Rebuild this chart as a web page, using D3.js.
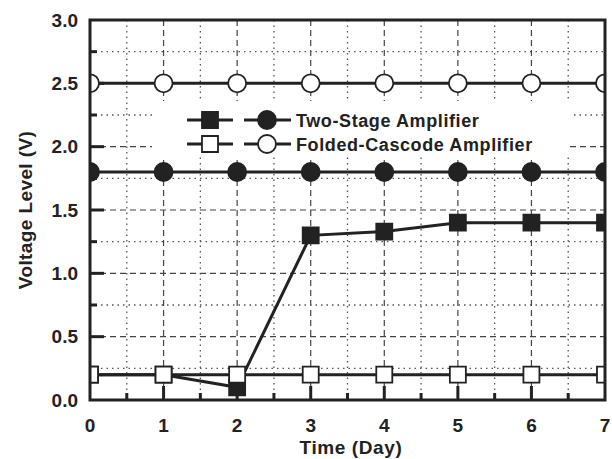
<!DOCTYPE html>
<html>
<head>
<meta charset="utf-8">
<script src="https://cdn.jsdelivr.net/npm/d3@7"></script>
<style>
body { margin: 0; background: #fff; }
text { font-family: "Liberation Sans", Arial, sans-serif; font-weight: bold; fill: #222; }
</style>
</head>
<body>
<svg id="chart" width="612" height="459"></svg>
<script>
// data
var days = [0, 1, 2, 3, 4, 5, 6, 7];
var twoStageOut = [0.2, 0.2, 0.1, 1.3, 1.33, 1.4, 1.4, 1.4];   // filled squares
var twoStageRef = [1.8, 1.8, 1.8, 1.8, 1.8, 1.8, 1.8, 1.8];     // filled circles
var foldedOut = [0.2, 0.2, 0.2, 0.2, 0.2, 0.2, 0.2, 0.2];       // open squares
var foldedRef = [2.5, 2.5, 2.5, 2.5, 2.5, 2.5, 2.5, 2.5];       // open circles
var yTicks = [0, 0.5, 1.0, 1.5, 2.0, 2.5, 3.0];
var legendNames = ["Two-Stage Amplifier", "Folded-Cascode Amplifier"];

var svg = d3.select("#chart");
var pL = 90, pR = 605, pT = 20, pB = 400;
var ink = "#222";

var x = d3.scaleLinear().domain([0, 7]).range([pL, pR]);
var y = d3.scaleLinear().domain([0, 3]).range([pB, pT]);

function isMajorY(d) { return Math.abs(d * 2 - Math.round(d * 2)) < 1e-6; }

// grid
var g = svg.append("g");
d3.range(0.5, 7, 0.5).forEach(function (d) {
    var major = d % 1 === 0;
    g.append("line").attr("x1", x(d)).attr("x2", x(d)).attr("y1", pT).attr("y2", pB)
        .attr("stroke", major ? "#444" : "#555").attr("stroke-width", major ? 1.2 : 1.3)
        .attr("stroke-dasharray", major ? "6,4" : "1.5,4");
});
d3.range(0.25, 3, 0.25).forEach(function (d) {
    var major = isMajorY(d);
    g.append("line").attr("x1", pL).attr("x2", pR).attr("y1", y(d)).attr("y2", y(d))
        .attr("stroke", major ? "#444" : "#555").attr("stroke-width", major ? 1.2 : 1.3)
        .attr("stroke-dasharray", major ? "6,4" : "1.5,4");
});

// legend box hides the grid behind it
svg.append("rect").attr("x", 152).attr("y", 101).attr("width", 418).attr("height", 56)
    .attr("fill", "#fff");

// ticks (inside)
d3.range(0.5, 7, 0.5).forEach(function (d) {
    var len = d % 1 === 0 ? 14 : 7;
    svg.append("line").attr("x1", x(d)).attr("x2", x(d)).attr("y1", pB).attr("y2", pB - len)
        .attr("stroke", ink).attr("stroke-width", 3);
});
d3.range(0.25, 3, 0.25).forEach(function (d) {
    var len = isMajorY(d) ? 14 : 7;
    svg.append("line").attr("x1", pL).attr("x2", pL + len).attr("y1", y(d)).attr("y2", y(d))
        .attr("stroke", ink).attr("stroke-width", 3);
});

// clip for markers
svg.append("clipPath").attr("id", "plotClip").append("rect")
    .attr("x", pL).attr("y", pT).attr("width", pR - pL).attr("height", pB - pT);

var plot = svg.append("g").attr("clip-path", "url(#plotClip)");
var line = d3.line().x(function (d, i) { return x(days[i]); }).y(function (d) { return y(d); });

function drawSeries(vals, shape, filled) {
    plot.append("path").datum(vals).attr("d", line)
        .attr("fill", "none").attr("stroke", ink).attr("stroke-width", 3);
    var sym = shape === "square" ? d3.symbolSquare : d3.symbolCircle;
    var size = shape === "square" ? 16 * 16 : Math.PI * 9 * 9;
    plot.selectAll(null).data(vals).enter().append("path")
        .attr("d", d3.symbol().type(sym).size(size))
        .attr("transform", function (d, i) { return "translate(" + x(days[i]) + "," + y(d) + ")"; })
        .attr("fill", filled ? ink : "#fff")
        .attr("stroke", ink).attr("stroke-width", 1.8);
}
drawSeries(twoStageRef, "circle", true);
drawSeries(twoStageOut, "square", true);
drawSeries(foldedRef, "circle", false);
drawSeries(foldedOut, "square", false);

// frame
svg.append("rect").attr("x", pL).attr("y", pT).attr("width", pR - pL).attr("height", pB - pT)
    .attr("fill", "none").attr("stroke", ink).attr("stroke-width", 3);

// tick labels
svg.selectAll(null).data(days).enter().append("text")
    .attr("x", function (d) { return x(d); }).attr("y", 432)
    .attr("text-anchor", "middle").attr("font-size", 19)
    .text(function (d) { return d; });
svg.selectAll(null).data(yTicks).enter().append("text")
    .attr("x", 78).attr("y", function (d) { return y(d) + 6.5; })
    .attr("text-anchor", "end").attr("font-size", 19)
    .text(function (d) { return d.toFixed(1); });

// axis titles
svg.append("text").attr("x", 351).attr("y", 454).attr("text-anchor", "middle")
    .attr("font-size", 19).attr("letter-spacing", 0.6).text("Time (Day)");
svg.append("text").attr("transform", "translate(32," + y(1.5) + ") rotate(-90)")
    .attr("text-anchor", "middle").attr("font-size", 19).attr("letter-spacing", 0.4)
    .text("Voltage Level (V)");

// legend
var legend = svg.append("g");
[[true, 120], [false, 144]].forEach(function (row, k) {
    var filled = row[0], ly = row[1];
    legend.append("line").attr("x1", 187).attr("x2", 233).attr("y1", ly).attr("y2", ly)
        .attr("stroke", ink).attr("stroke-width", 3);
    legend.append("path").attr("d", d3.symbol().type(d3.symbolSquare).size(16 * 16))
        .attr("transform", "translate(210," + ly + ")")
        .attr("fill", filled ? ink : "#fff").attr("stroke", ink).attr("stroke-width", 1.8);
    legend.append("line").attr("x1", 244).attr("x2", 291).attr("y1", ly).attr("y2", ly)
        .attr("stroke", ink).attr("stroke-width", 3);
    legend.append("path").attr("d", d3.symbol().type(d3.symbolCircle).size(Math.PI * 81))
        .attr("transform", "translate(267," + ly + ")")
        .attr("fill", filled ? ink : "#fff").attr("stroke", ink).attr("stroke-width", 1.8);
    legend.append("text").attr("x", 296).attr("y", ly + 6.5).attr("font-size", 18)
        .attr("letter-spacing", 0.6).text(legendNames[k]);
});
</script>
</body>
</html>
